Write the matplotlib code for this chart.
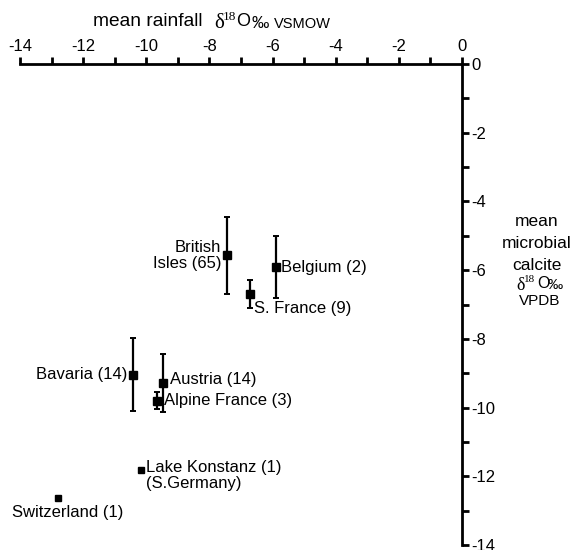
import numpy as np
import matplotlib.pyplot as plt

plt.rcParams['font.family'] = ['Liberation Sans', 'DejaVu Sans']
plt.rcParams['axes.unicode_minus'] = False

# data
sites = ['British\nIsles (65)', 'Belgium (2)', 'S. France (9)', 'Bavaria (14)',
         'Austria (14)', 'Alpine France (3)']
rain = [-7.43, -5.90, -6.73, -10.41, -9.46, -9.65]
calcite = [-5.57, -5.91, -6.70, -9.04, -9.29, -9.80]
err = [1.12, 0.89, 0.40, 1.07, 0.85, 0.24]

single_sites = ['Lake Konstanz (1)\n(S.Germany)', 'Switzerland (1)']
single_rain = [-10.16, -12.81]
single_calcite = [-11.82, -12.63]

# label offsets in pixels and alignment
label_pos = [(-6, 0, 'right', 'center'), (5, 0, 'left', 'center'),
             (4, -14, 'left', 'center'), (-6, 0, 'right', 'center'),
             (7, 4, 'left', 'center'), (7, 0, 'left', 'center')]
single_pos = [(5, 10, 'left', 'top'), (-46, -7, 'left', 'top')]

W, H = 575, 550
fig = plt.figure(figsize=(W / 100, H / 100), dpi=100)
ax = fig.add_axes([20 / W, 5 / H, 442 / W, 481 / H])


def px(x, y):
    # figure fraction from pixel position (top-left origin)
    return x / W, 1 - y / H


ax.errorbar(rain, calcite, yerr=err, fmt='s', color='black', ms=5.5,
            elinewidth=1.6, capsize=2.3, capthick=1.4, zorder=3)
ax.plot(single_rain, single_calcite, 's', color='black', ms=4.5, zorder=3)

for name, x, y, (dx, dy, ha, va) in zip(sites, rain, calcite, label_pos):
    ax.annotate(name, (x, y), xytext=(dx, dy), textcoords='offset pixels',
                ha=ha, va=va, fontsize=12, multialignment=ha, linespacing=1.05)
for name, x, y, (dx, dy, ha, va) in zip(single_sites, single_rain, single_calcite, single_pos):
    ax.annotate(name, (x, y), xytext=(dx, dy), textcoords='offset pixels',
                ha=ha, va=va, fontsize=12, multialignment='left', linespacing=1.05)

ax.set_xlim(-14, 0)
ax.set_ylim(-14, 0)
for s in ['left', 'bottom']:
    ax.spines[s].set_visible(False)
for s in ['top', 'right']:
    ax.spines[s].set_linewidth(2)
ax.xaxis.set_ticks_position('top')
ax.yaxis.set_ticks_position('right')
ax.set_xticks(np.arange(-14, 1, 2))
ax.set_xticks(np.arange(-13, 0, 2), minor=True)
ax.set_yticks(np.arange(-14, 1, 2))
ax.set_yticks(np.arange(-13, 0, 2), minor=True)
ax.tick_params(which='both', direction='out', length=5, width=2, labelsize=12, pad=2)
ax.patch.set_visible(False)

serif = ['Liberation Serif', 'DejaVu Serif']

# top axis title
fig.text(*px(93, 22), 'mean rainfall', fontsize=13.8, va='center', ha='left')
fig.text(*px(214, 23), 'δ', fontsize=15, va='center', ha='left', family=serif)
fig.text(*px(223, 17), '18', fontsize=9.5, va='center', ha='left', family=serif)
fig.text(*px(236, 22), 'O', fontsize=13, va='center', ha='left')
fig.text(*px(252, 23), '‰', fontsize=12.5, va='center', ha='left')
fig.text(*px(274, 24), 'VSMOW', fontsize=10.5, va='center', ha='left')

# right axis title
for line, y in zip(['mean', 'microbial', 'calcite'], [222, 243, 265]):
    fig.text(*px(537, y), line, fontsize=12.5, ha='center', va='center')
fig.text(*px(516, 285), 'δ', fontsize=13, ha='left', va='center', family=serif)
fig.text(*px(524, 279), '18', fontsize=8, ha='left', va='center', family=serif)
fig.text(*px(537, 284), 'O', fontsize=11.5, ha='left', va='center')
fig.text(*px(548, 285), '‰', fontsize=11, ha='left', va='center')
fig.text(*px(540, 301), 'VPDB', fontsize=11, ha='center', va='center')

fig.savefig('out.png', dpi=100)
